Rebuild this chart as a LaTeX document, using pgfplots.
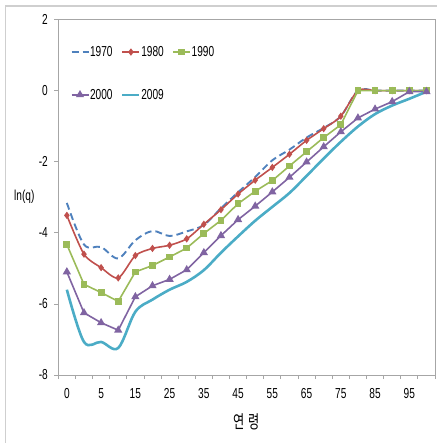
\documentclass[border=0pt]{standalone}
\usepackage{fontspec}
\setmainfont[FakeStretch=0.7]{Liberation Sans}
\newfontfamily\kofont[FakeStretch=0.68]{Noto Sans CJK KR}
\usepackage{pgfplots}
\pgfplotsset{compat=1.18}

\definecolor{s1970}{HTML}{4F81BD}
\definecolor{s1980}{HTML}{C0504D}
\definecolor{s1990}{HTML}{9BBB59}
\definecolor{s2000}{HTML}{8064A2}
\definecolor{s2009}{HTML}{4BACC6}
\definecolor{axisgray}{HTML}{A6A6A6}
\definecolor{framegray}{HTML}{CFCFCF}

% ages 0,1,5,10,...,100 are plotted at category positions 0..21
\pgfplotstableread{
idx  age  y1970  y1980  y1990  y2000  y2009
0    0    -3.16  -3.51  -4.33  -5.10  -5.60
1    1    -4.33  -4.60  -5.45  -6.25  -7.07
2    5    -4.40  -4.98  -5.68  -6.53  -7.07
3    10   -4.72  -5.27  -5.93  -6.74  -7.24
4    15   -4.21  -4.64  -5.10  -5.80  -6.22
5    20   -3.95  -4.44  -4.92  -5.49  -5.88
6    25   -4.09  -4.35  -4.68  -5.31  -5.60
7    30   -3.96  -4.17  -4.43  -5.04  -5.38
8    35   -3.78  -3.76  -4.02  -4.56  -5.05
9    40   -3.31  -3.35  -3.65  -4.08  -4.56
10   45   -2.86  -2.91  -3.18  -3.63  -4.10
11   50   -2.43  -2.52  -2.83  -3.25  -3.66
12   55   -1.96  -2.16  -2.53  -2.85  -3.27
13   60   -1.66  -1.79  -2.12  -2.44  -2.88
14   65   -1.32  -1.40  -1.72  -2.01  -2.40
15   70   -1.05  -1.07  -1.32  -1.58  -1.91
16   75   -0.72  -0.72  -0.96  -1.16  -1.44
17   80    0.00   0.00   0.00  -0.77  -1.01
18   85    0.00   0.00   0.00  -0.52  -0.66
19   90    0.00   0.00   0.00  -0.31  -0.42
20   95    0.00   0.00   0.00  -0.03  -0.23
21   100   0.00   0.00   0.00  -0.03  -0.03
}\mortality

\begin{document}
\begin{tikzpicture}
\useasboundingbox (0bp,0bp) rectangle (437bp,443bp);
% chart area frame
\draw[framegray, line width=1.2bp] (5.5bp,0bp) -- (5.5bp,437bp) -- (437bp,437bp);
\begin{axis}[
  at={(58.3bp,68bp)}, anchor=south west,
  scale only axis, width=376.7bp, height=355.5bp,
  font=\fontsize{14.5}{17}\selectfont,
  /pgf/number format/assume math mode=true,
  xmin=-0.5, xmax=21.5, ymin=-8, ymax=2,
  xtick={0,2,...,20},
  xticklabels={0,5,15,25,35,45,55,65,75,85,95},
  minor xtick={-0.5,0.5,...,21.5},
  ytick={-8,-6,...,2},
  yticklabels={-8,-6,-4,-2,0,2},
  tick align=outside,
  xtick pos=left, ytick pos=left,
  major tick length=4bp, minor tick length=4bp,
  major x tick style={draw=none},
  tick style={draw=axisgray, line width=0.8bp},
  axis line style={draw=axisgray, line width=0.9bp},
  xticklabel style={yshift=-6bp},
  yticklabel style={xshift=-3bp},
  xlabel={{\kofont\fontsize{18}{20}\selectfont 연\hspace{4bp}령}},
  xlabel style={at={(axis description cs:0.5,0)}, anchor=center, yshift=-47bp},
  ylabel={ln(q)},
  ylabel style={rotate=-90, at={(axis description cs:0,0.5)}, anchor=center, xshift=-34bp},
  legend columns=3,
  legend image code/.code={\draw[mark repeat=2,mark phase=2,#1] plot coordinates {(0bp,0bp) (8.5bp,0bp) (17bp,0bp)};},
  legend style={draw=none, fill=none, inner sep=0pt,
    at={(axis description cs:0.032,0.927)}, anchor=north west,
    row sep=30bp,
    nodes={inner sep=0.6bp},
    /tikz/every even column/.append style={column sep=8bp}},
]
\addplot[s1970, line width=1.9bp, dash pattern=on 7bp off 4bp, smooth, tension=0.55]
  table[x=idx, y=y1970] {\mortality};
\addlegendentry{1970}
\addplot[s1980, line width=1.6bp, smooth, tension=0.45, mark=diamond*, mark size=2.4bp,
  mark options={solid}]
  table[x=idx, y=y1980] {\mortality};
\addlegendentry{1980}
\addplot[s1990, line width=1.6bp, mark=square*, mark size=2.6bp, mark options={solid}]
  table[x=idx, y=y1990] {\mortality};
\addlegendentry{1990}
\addplot[s2000, line width=1.6bp, mark=triangle*, mark size=3.2bp, mark options={solid}]
  table[x=idx, y=y2000] {\mortality};
\addlegendentry{2000}
\addplot[s2009, line width=2.6bp, smooth, tension=0.55]
  table[x=idx, y=y2009] {\mortality};
\addlegendentry{2009}
\end{axis}
\end{tikzpicture}
\end{document}
